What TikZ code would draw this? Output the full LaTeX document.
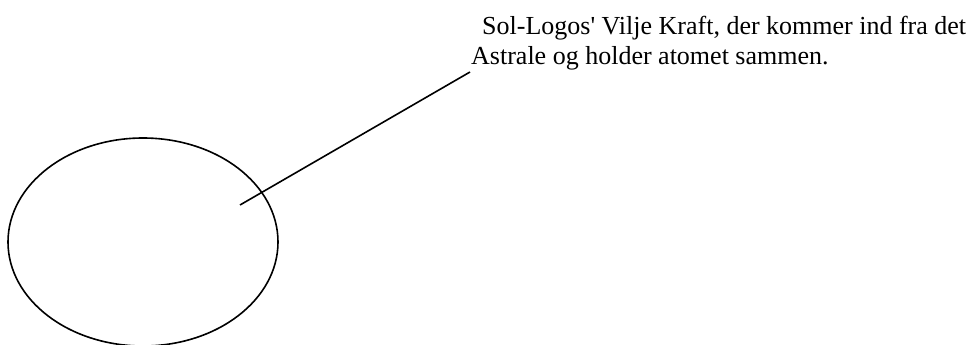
\documentclass[tikz,border=0pt]{standalone}
\usepackage{fontspec}
\setmainfont{Liberation Serif}
\usetikzlibrary{shapes.geometric}
\begin{document}
\begin{tikzpicture}[x=1pt,y=-1pt,
  lbl/.style={anchor=base west,inner sep=0pt,font=\fontsize{26}{30}\selectfont},
  stroke/.style={line width=1.6pt,black}]
\useasboundingbox (0,0) rectangle (980,345);
\node[stroke,draw,ellipse,minimum width=270pt,minimum height=208pt,inner sep=0pt] (atom) at (143,242) {};
\node[lbl] (t1) at (482,35) {Sol-Logos\textquotesingle{} Vilje Kraft, der kommer ind fra det};
\node[lbl] (t2) at (471,65) {Astrale og holder atomet sammen.};
\coordinate (start) at (240,205);
\coordinate (end) at (470,72);
\draw[stroke] (start) -- (end);
\end{tikzpicture}
\end{document}
